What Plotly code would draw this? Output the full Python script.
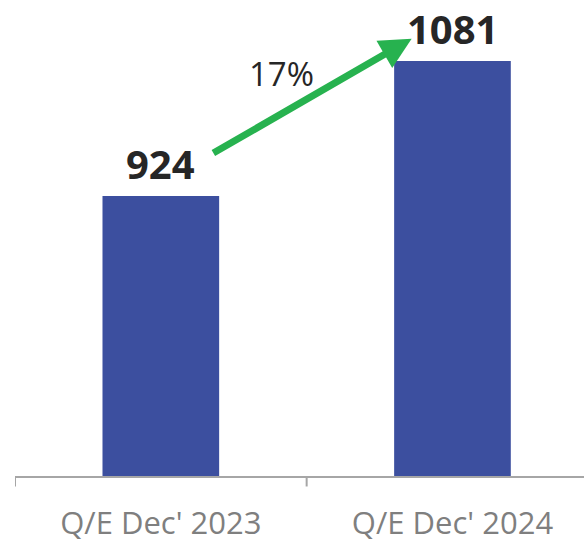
import plotly.graph_objects as go

# === Data ===
PERIODS = ["Q/E Dec' 2023", "Q/E Dec' 2024"]
VALUES = [924, 1081]
GROWTH_LABEL = "17%"

BAR_COLOR = "#3c4f9f"
ARROW_COLOR = "#27b24f"
TEXT_DARK = "#262626"
TEXT_GRAY = "#7f7f7f"
FONT = "Open Sans, Noto Sans, sans-serif"

fig = go.Figure()

fig.add_trace(go.Bar(
    x=[0, 1], y=VALUES,
    width=0.4,
    marker=dict(color=BAR_COLOR, line=dict(width=0)),
))

# value labels above the bars
for i, v in enumerate(VALUES):
    fig.add_annotation(
        x=i, y=v, xref="x", yref="y",
        text=f"<b>{v}</b>", showarrow=False,
        yanchor="bottom", yshift=4, borderpad=0,
        font=dict(size=40, color=TEXT_DARK, family=FONT),
    )

# growth arrow between the two bars
fig.add_annotation(
    x=0.86, y=1107, ax=0.175, ay=973,
    xref="x", yref="y", axref="x", ayref="y",
    text="", showarrow=True,
    arrowhead=2, arrowsize=0.9, arrowwidth=7, arrowcolor=ARROW_COLOR,
)
fig.add_annotation(
    x=0.415, y=1066, xref="x", yref="y",
    text=GROWTH_LABEL, showarrow=False,
    font=dict(size=33, color=TEXT_DARK, family=FONT),
)

fig.update_layout(
    width=584, height=543,
    margin=dict(l=15, r=0, t=0, b=60),
    paper_bgcolor="white",
    plot_bgcolor="white",
    showlegend=False,
    font=dict(family=FONT),
)
fig.update_xaxes(
    range=[-0.5, 1.451],
    tickmode="array", tickvals=[0, 1], ticktext=PERIODS,
    showline=True, linecolor="#a6a6a6", linewidth=2,
    ticks="", showgrid=False, zeroline=False,
    tickfont=dict(size=31, color=TEXT_GRAY, family=FONT),
    ticklabelstandoff=19,
)
# boundary ticks drawn as vertical shapes on the axis
for b in [-0.5, 0.5, 1.5]:
    fig.add_shape(
        type="line", xref="x", yref="paper",
        x0=b, x1=b, y0=0, y1=-0.022,
        line=dict(color="#a6a6a6", width=2),
    )
fig.update_yaxes(
    range=[598.5, 1152],
    visible=False, showgrid=False, zeroline=False,
)

fig.write_html(
    "out.html",
    config={"displayModeBar": False},
    post_script="document.body.style.margin='0';",
)
